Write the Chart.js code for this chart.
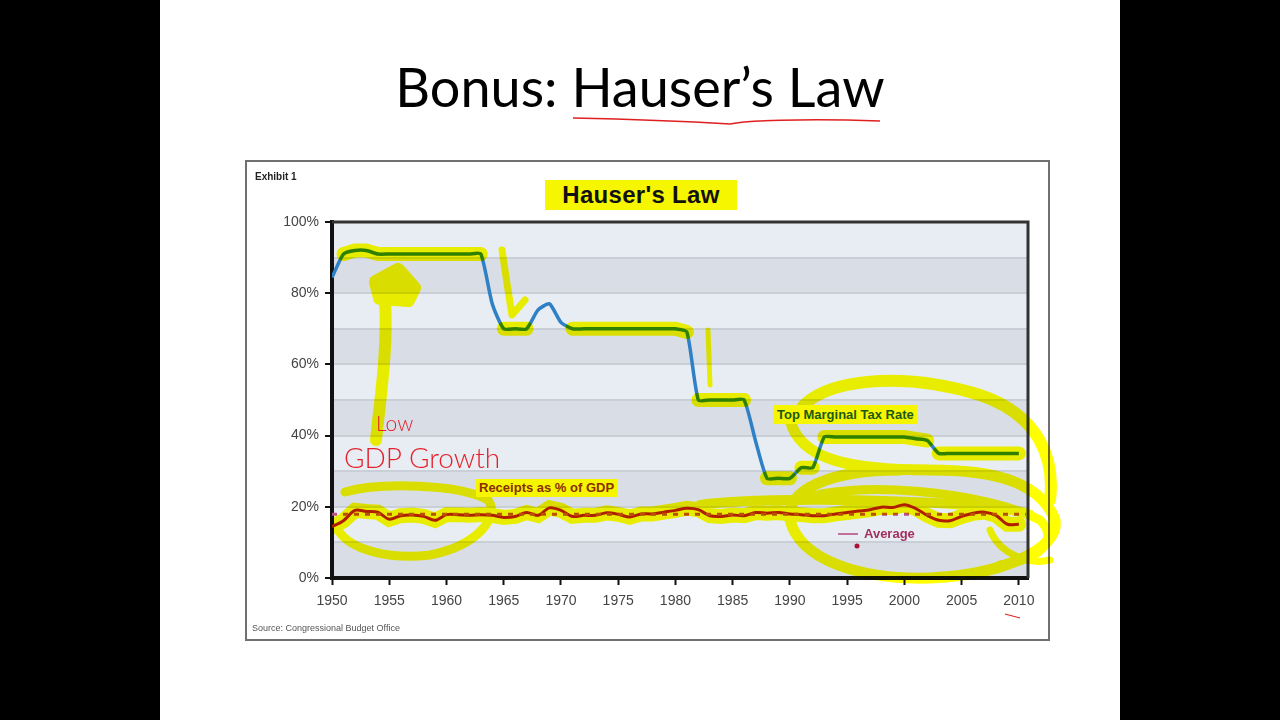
<!DOCTYPE html>
<html>
<head>
<meta charset="utf-8">
<script src="https://cdn.jsdelivr.net/npm/chart.js@4.4.1/dist/chart.umd.min.js"></script>
<style>
  body { margin: 0; width: 1280px; height: 720px; background: #000; position: relative; overflow: hidden; font-family: "Liberation Sans", Arial, sans-serif; }
  #slide { position: absolute; left: 160px; top: 0; width: 960px; height: 720px; background: #fff; }
  #slideTitle { position: absolute; left: 0; width: 1280px; top: 54px; text-align: center; font-family: Lato, "Open Sans", sans-serif; font-size: 54px; color: #000; white-space: nowrap; }
  #chartBox { position: absolute; left: 245px; top: 160px; width: 805px; height: 481px; background: #fff; }
  #frame { position: absolute; left: 245px; top: 160px; width: 805px; height: 481px; box-sizing: border-box; border: 2px solid #707070; pointer-events: none; }
  .lbl { position: absolute; white-space: nowrap; font-weight: bold; }
  .hl { background: #f6f600; }
  #ink { position: absolute; left: 0; top: 0; mix-blend-mode: multiply; pointer-events: none; }
  .hand { position: absolute; color: #e5202a; font-family: Lato, sans-serif; font-weight: 300; white-space: nowrap; }
</style>
</head>
<body>
<div id="slide"></div>
<div id="slideTitle">Bonus: Hauser’s Law</div>
<div id="chartBox"><canvas id="myChart"></canvas></div>
<div id="frame"></div>

<div class="lbl" style="left:255px;top:171px;font-size:10px;color:#222;">Exhibit 1</div>
<div class="lbl hl" style="left:545px;top:180px;width:192px;height:30px;line-height:30px;text-align:center;font-size:24px;color:#111;letter-spacing:0.3px;">Hauser's Law</div>
<div class="lbl hl" style="left:774px;top:405px;padding:0 3px;font-size:13px;line-height:19px;color:#1c5a14;">Top Marginal Tax Rate</div>
<div class="lbl hl" style="left:476px;top:479px;padding:0 3px;font-size:13px;line-height:18px;color:#8a2e00;">Receipts as % of GDP</div>
<div style="position:absolute;left:838px;top:533px;width:20px;height:2px;background:#c0709a;"></div>
<div class="lbl" style="left:864px;top:526px;font-size:13px;color:#a3305c;">Average</div>
<div style="position:absolute;left:252px;top:623px;font-size:9px;color:#555;white-space:nowrap;">Source: Congressional Budget Office</div>

<svg id="ink" width="1280" height="720">
  <g fill="none" stroke="#ffff00" stroke-linecap="round" stroke-linejoin="round">
    <path d="M385 300 C 388 350, 380 400, 376 440" stroke-width="12"/>
    <path d="M376 282 L 398 270 L 414 288 L 408 300 L 380 298 Z" stroke-width="14" fill="#ffff00"/>
    <path d="M502 250 L 508 290 L 512 315 L 525 300" stroke-width="7"/>
    <path d="M708 330 L 710 385" stroke-width="5"/>
    <path d="M345 492 C 380 482, 460 484, 488 500 C 500 515, 480 545, 430 555 C 390 560, 350 550, 338 530" stroke-width="9"/>
    <path d="M700 505 C 760 495, 1000 500, 1030 515" stroke-width="10"/>
    <path d="M800 410 C 820 380, 900 370, 980 395 C 1040 415, 1055 460, 1050 500" stroke-width="12"/>
    <path d="M790 420 C 800 460, 850 470, 930 470 C 990 470, 1040 480, 1055 520 C 1060 550, 1000 575, 930 578 C 860 580, 800 560, 790 520 C 785 490, 830 470, 900 470" stroke-width="11"/>
    <path d="M800 500 C 850 480, 980 490, 1040 520 C 1060 540, 1040 560, 1000 565" stroke-width="9"/>
    <path d="M990 530 C 1000 555, 1030 565, 1050 560" stroke-width="7"/>
  </g>
  <path d="M573 118 C 620 119, 680 121, 730 124 C 745 121, 800 118, 880 121" fill="none" stroke="#e02020" stroke-width="1.5"/>
  <path d="M1005 614 L 1020 618" stroke="#e02020" stroke-width="1.2"/>
  <circle cx="857" cy="546" r="2.5" fill="#d0103a"/>
</svg>

<div class="hand" style="left:376px;top:410px;font-size:21px;">Low</div>
<div class="hand" style="left:344px;top:440px;font-size:28px;">GDP Growth</div>

<script>
// Years on the x axis
const years = [1950, 1951, 1952, 1953, 1954, 1955, 1956, 1957, 1958, 1959,
  1960, 1961, 1962, 1963, 1964, 1965, 1966, 1967, 1968, 1969,
  1970, 1971, 1972, 1973, 1974, 1975, 1976, 1977, 1978, 1979,
  1980, 1981, 1982, 1983, 1984, 1985, 1986, 1987, 1988, 1989,
  1990, 1991, 1992, 1993, 1994, 1995, 1996, 1997, 1998, 1999,
  2000, 2001, 2002, 2003, 2004, 2005, 2006, 2007, 2008, 2009, 2010];

// Top marginal tax rate (%)
const topTaxRate = [84.4, 91, 92, 92, 91, 91, 91, 91, 91, 91,
  91, 91, 91, 91, 77, 70, 70, 70, 75.3, 77,
  71.8, 70, 70, 70, 70, 70, 70, 70, 70, 70,
  70, 69.1, 50, 50, 50, 50, 50, 38.5, 28, 28,
  28, 31, 31, 39.6, 39.6, 39.6, 39.6, 39.6, 39.6, 39.6,
  39.6, 39.1, 38.6, 35, 35, 35, 35, 35, 35, 35, 35];

// Receipts as % of GDP
const receipts = [14.4, 16.1, 19.0, 18.7, 18.5, 16.5, 17.5, 17.7, 17.3, 16.2,
  17.8, 17.8, 17.6, 17.8, 17.6, 17.0, 17.3, 18.4, 17.6, 19.7,
  19.0, 17.3, 17.6, 17.6, 18.3, 17.9, 17.1, 18.0, 18.0, 18.5,
  19.0, 19.6, 19.2, 17.5, 17.3, 17.7, 17.5, 18.4, 18.2, 18.4,
  18.0, 17.8, 17.5, 17.5, 18.0, 18.4, 18.8, 19.2, 19.9, 19.8,
  20.6, 19.5, 17.6, 16.2, 16.1, 17.3, 18.2, 18.5, 17.6, 15.1, 15.1];

const averageReceipts = 17.9;
const averageSpan = [1950, 2010.6];

const xTicks = [1950, 1955, 1960, 1965, 1970, 1975, 1980, 1985, 1990, 1995, 2000, 2005, 2010];
const yTicks = [0, 20, 40, 60, 80, 100];

const pts = (vals) => years.map((y, i) => ({ x: y, y: vals[i] }));
const HL = '#ffff00';

// striped background bands, every 10%
const bands = {
  id: 'bands',
  beforeDraw(chart) {
    const { ctx, chartArea: a, scales: { y } } = chart;
    ctx.save();
    for (let v = 0; v < 100; v += 10) {
      ctx.fillStyle = (v / 10) % 2 === 1 ? '#e8edf4' : '#d9dee6';
      const top = y.getPixelForValue(v + 10), bot = y.getPixelForValue(v);
      ctx.fillRect(a.left, top, a.right - a.left, bot - top);
    }
    ctx.restore();
  },
  afterDraw(chart) {
    const { ctx, chartArea: a } = chart;
    ctx.save();
    ctx.strokeStyle = '#333';
    ctx.lineWidth = 3;
    ctx.beginPath();
    ctx.moveTo(a.left, a.top);
    ctx.lineTo(a.right, a.top);
    ctx.lineTo(a.right, a.bottom);
    ctx.stroke();
    ctx.restore();
  }
};

// highlighter datasets are drawn with multiply, like the pen on the slide
const marker = {
  id: 'marker',
  beforeDatasetDraw(chart, args) {
    if (chart.data.datasets[args.index].marker) {
      chart.ctx.save();
      chart.ctx.globalCompositeOperation = 'multiply';
    }
  },
  afterDatasetDraw(chart, args) {
    if (chart.data.datasets[args.index].marker) chart.ctx.restore();
  }
};

var ctx = document.getElementById('myChart').getContext('2d');
// eslint-disable-next-line no-unused-vars
var chart = new Chart(ctx, {
  type: 'line',
  data: {
    datasets: [
      {
        label: 'tax highlight',
        marker: true,
        data: pts(topTaxRate),
        borderWidth: 14,
        borderCapStyle: 'round',
        segment: {
          borderColor: c => Math.abs(c.p0.parsed.y - c.p1.parsed.y) < 1.5 ? HL : 'rgba(0,0,0,0)'
        },
        pointRadius: 0,
        order: 0
      },
      {
        label: 'receipts highlight',
        marker: true,
        data: pts(receipts),
        borderColor: HL,
        borderWidth: 15,
        borderCapStyle: 'round',
        pointRadius: 0,
        order: 0
      },
      {
        label: 'Top Marginal Tax Rate',
        data: pts(topTaxRate),
        borderColor: '#2f80c4',
        borderWidth: 3.5,
        pointRadius: 0,
        tension: 0.2,
        order: 2
      },
      {
        label: 'Receipts as % of GDP',
        data: pts(receipts),
        borderColor: '#b01e3a',
        borderWidth: 3,
        pointRadius: 0,
        tension: 0.3,
        order: 2
      },
      {
        label: 'Average',
        data: averageSpan.map(x => ({ x: x, y: averageReceipts })),
        borderColor: '#b8507e',
        borderWidth: 3,
        borderDash: [5, 6],
        pointRadius: 0,
        order: 1
      }
    ]
  },
  options: {
    responsive: true,
    maintainAspectRatio: false,
    animation: false,
    layout: { padding: { top: 62, right: 22, bottom: 23, left: 0 } },
    plugins: { legend: { display: false }, tooltip: { enabled: false } },
    scales: {
      x: {
        type: 'linear',
        min: 1950,
        max: 2010.8,
        afterFit: s => { s.height = 40; },
        afterBuildTicks: s => { s.ticks = xTicks.map(v => ({ value: v })); },
        grid: { drawOnChartArea: false, tickLength: 7, tickColor: '#111', tickWidth: 2 },
        border: { color: '#111', width: 4 },
        ticks: { color: '#444', font: { family: 'Liberation Sans', size: 14 }, padding: 8, maxRotation: 0, callback: v => String(v) }
      },
      y: {
        min: 0,
        max: 100,
        afterFit: s => { s.width = 87; },
        afterBuildTicks: s => { s.ticks = [0, 10, 20, 30, 40, 50, 60, 70, 80, 90, 100].map(v => ({ value: v })); },
        grid: {
          color: c => (c.tick && c.tick.value > 0 && c.tick.value < 100) ? '#c9ced7' : 'rgba(0,0,0,0)',
          lineWidth: 2,
          tickLength: 7,
          tickColor: c => (c.tick && yTicks.includes(c.tick.value)) ? '#111' : 'rgba(0,0,0,0)',
          tickWidth: 2
        },
        border: { color: '#111', width: 4 },
        ticks: {
          color: '#444',
          font: { family: 'Liberation Sans', size: 14 },
          padding: 6,
          callback: v => yTicks.includes(v) ? v + '%' : ''
        }
      }
    }
  },
  plugins: [bands, marker]
});
</script>
</body>
</html>
